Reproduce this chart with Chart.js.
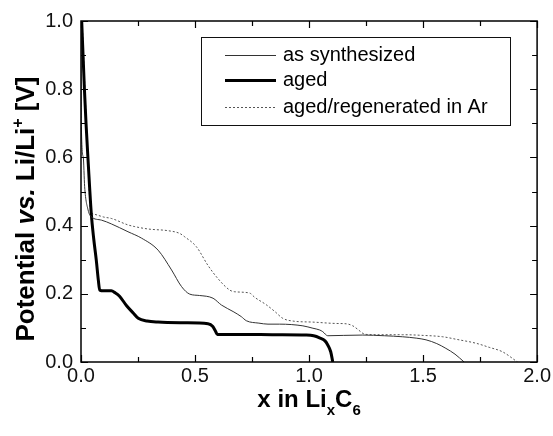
<!DOCTYPE html>
<html>
<head>
<meta charset="utf-8">
<script src="https://cdn.jsdelivr.net/npm/chart.js@4.4.0/dist/chart.umd.min.js"></script>
<style>
  html, body { margin: 0; padding: 0; background: #fff; }
</style>
</head>
<body>
<canvas id="curveChart" width="553" height="436"></canvas>
<script>
// series
const synthX = [0, 0.001, 0.01, 0.016, 0.031, 0.045, 0.09, 0.133, 0.206, 0.266, 0.338, 0.397, 0.441, 0.477, 0.52, 0.579, 0.616, 0.667, 0.703, 0.725, 0.78, 0.82, 0.871, 0.973, 1.017, 1.046, 1.06, 1.082, 1.15, 1.236, 1.33, 1.41, 1.47, 1.513, 1.56, 1.6, 1.64, 1.68];
const synthY = [1.0, 0.71, 0.6, 0.514, 0.446, 0.426, 0.416, 0.405, 0.382, 0.363, 0.328, 0.27, 0.221, 0.199, 0.195, 0.187, 0.167, 0.148, 0.133, 0.121, 0.114, 0.111, 0.111, 0.106, 0.099, 0.094, 0.089, 0.077, 0.078, 0.079, 0.077, 0.074, 0.07, 0.065, 0.054, 0.04, 0.023, 0.0];

const agedX = [0.003, 0.015, 0.022, 0.032, 0.045, 0.056, 0.067, 0.076, 0.082, 0.1, 0.133, 0.15, 0.169, 0.2, 0.23, 0.251, 0.29, 0.338, 0.45, 0.557, 0.578, 0.59, 0.598, 0.7, 0.85, 0.988, 1.02, 1.046, 1.07, 1.082, 1.095, 1.104];
const agedY = [1.0, 0.8, 0.7, 0.58, 0.436, 0.36, 0.299, 0.24, 0.211, 0.209, 0.209, 0.203, 0.193, 0.165, 0.143, 0.128, 0.12, 0.117, 0.115, 0.112, 0.104, 0.09, 0.081, 0.081, 0.08, 0.079, 0.077, 0.071, 0.062, 0.05, 0.03, 0.0];

const regenX = [0.005, 0.016, 0.03, 0.042, 0.06, 0.1, 0.133, 0.206, 0.236, 0.295, 0.382, 0.433, 0.455, 0.506, 0.557, 0.6, 0.652, 0.674, 0.74, 0.761, 0.812, 0.85, 0.885, 0.93, 1.017, 1.119, 1.163, 1.192, 1.215, 1.236, 1.25, 1.309, 1.41, 1.5, 1.586, 1.65, 1.732, 1.79, 1.848, 1.914];
const regenY = [1.0, 0.82, 0.6, 0.446, 0.433, 0.425, 0.421, 0.402, 0.397, 0.39, 0.385, 0.377, 0.367, 0.338, 0.283, 0.245, 0.211, 0.206, 0.202, 0.19, 0.168, 0.148, 0.128, 0.12, 0.117, 0.113, 0.112, 0.106, 0.095, 0.084, 0.081, 0.08, 0.08, 0.078, 0.074, 0.066, 0.055, 0.043, 0.03, 0.0];

const seriesNames = ['as synthesized', 'aged', 'aged/regenerated in Ar'];

const FONT = '"Liberation Sans", Arial, sans-serif';

function toPoints(xs, ys) {
  return xs.map((x, i) => ({ x: x, y: ys[i] }));
}

// draws a run of text pieces with their own font / baseline shift, centred on 0
function drawRich(ctx, parts) {
  let total = 0;
  parts.forEach(p => { ctx.font = p.font; p.w = ctx.measureText(p.text).width; total += p.w; });
  let x = -total / 2;
  parts.forEach(p => {
    ctx.font = p.font;
    ctx.fillText(p.text, x, p.dy || 0);
    x += p.w;
  });
}

const framePlugin = {
  id: 'frame',
  afterDraw(chart) {
    const ctx = chart.ctx;
    const a = chart.chartArea;
    const xs = chart.scales.x;
    const ys = chart.scales.y;
    ctx.save();

    // box round the plot
    ctx.strokeStyle = '#000';
    ctx.lineWidth = 1.5;
    ctx.strokeRect(a.left, a.top, a.right - a.left, a.bottom - a.top);

    // inward ticks on all four sides
    ctx.lineWidth = 1.2;
    ctx.beginPath();
    for (let i = 0; i <= 8; i++) {
      const px = Math.round(xs.getPixelForValue(i * 0.25)) + 0.5;
      const len = i % 2 === 0 ? 7 : 5;
      ctx.moveTo(px, a.bottom); ctx.lineTo(px, a.bottom - len);
      ctx.moveTo(px, a.top); ctx.lineTo(px, a.top + len);
    }
    for (let i = 0; i <= 10; i++) {
      const py = Math.round(ys.getPixelForValue(i * 0.1)) + 0.5;
      const len = i % 2 === 0 ? 7 : 5;
      ctx.moveTo(a.left, py); ctx.lineTo(a.left + len, py);
      ctx.moveTo(a.right, py); ctx.lineTo(a.right - len, py);
    }
    ctx.stroke();

    // legend
    ctx.lineWidth = 1;
    ctx.strokeStyle = '#111';
    ctx.strokeRect(201.5, 37.5, 309, 88);
    const rows = [55, 80, 107];
    const styles = [
      { w: 1, c: '#333', dash: [] },
      { w: 3, c: '#000', dash: [] },
      { w: 1, c: '#555', dash: [2, 2] }
    ];
    ctx.fillStyle = '#000';
    ctx.textBaseline = 'alphabetic';
    ctx.textAlign = 'left';
    ctx.font = '20px ' + FONT;
    rows.forEach((y, i) => {
      ctx.beginPath();
      ctx.lineWidth = styles[i].w;
      ctx.strokeStyle = styles[i].c;
      ctx.setLineDash(styles[i].dash);
      ctx.moveTo(225, y + 0.5); ctx.lineTo(276, y + 0.5);
      ctx.stroke();
      ctx.setLineDash([]);
      ctx.fillText(seriesNames[i], 283, y + 6);
    });

    // x title
    ctx.save();
    ctx.translate((a.left + a.right) / 2, 407);
    drawRich(ctx, [
      { text: 'x in Li', font: 'bold 24px ' + FONT },
      { text: 'x', font: 'bold 15px ' + FONT, dy: 8 },
      { text: 'C', font: 'bold 24px ' + FONT },
      { text: '6', font: 'bold 15px ' + FONT, dy: 8 }
    ]);
    ctx.restore();

    // y title
    ctx.save();
    ctx.translate(34, 209);
    ctx.rotate(-Math.PI / 2);
    drawRich(ctx, [
      { text: 'Potential ', font: 'bold 26px ' + FONT },
      { text: 'vs.', font: 'italic bold 26px ' + FONT },
      { text: ' Li/Li', font: 'bold 26px ' + FONT },
      { text: '+', font: 'bold 16px ' + FONT, dy: -11 },
      { text: ' [V]', font: 'bold 26px ' + FONT }
    ]);
    ctx.restore();

    ctx.restore();
  }
};

const ctx = document.getElementById('curveChart').getContext('2d');
new Chart(ctx, {
  type: 'scatter',
  data: {
    datasets: [
      {
        label: seriesNames[0],
        data: toPoints(synthX, synthY),
        showLine: true,
        borderColor: '#333',
        borderWidth: 1,
        pointRadius: 0,
        cubicInterpolationMode: 'monotone'
      },
      {
        label: seriesNames[1],
        data: toPoints(agedX, agedY),
        showLine: true,
        borderColor: '#000',
        borderWidth: 3,
        pointRadius: 0,
        cubicInterpolationMode: 'monotone'
      },
      {
        label: seriesNames[2],
        data: toPoints(regenX, regenY),
        showLine: true,
        borderColor: '#555',
        borderWidth: 1,
        borderDash: [2, 2],
        pointRadius: 0,
        cubicInterpolationMode: 'monotone'
      }
    ]
  },
  options: {
    responsive: false,
    animation: false,
    devicePixelRatio: 1,
    layout: { padding: { top: 21, right: 15, left: 0, bottom: 0 } },
    scales: {
      x: {
        type: 'linear',
        min: 0,
        max: 2,
        grid: { display: false, drawTicks: false },
        border: { display: false },
        ticks: {
          stepSize: 0.5,
          padding: 2,
          color: '#111',
          font: { family: FONT, size: 20 },
          callback: v => v.toFixed(1)
        },
        afterFit: scale => { scale.height = 74; }
      },
      y: {
        min: 0,
        max: 1,
        grid: { display: false, drawTicks: false },
        border: { display: false },
        ticks: {
          stepSize: 0.2,
          padding: 8,
          color: '#111',
          font: { family: FONT, size: 20 },
          callback: v => v.toFixed(1)
        },
        afterFit: scale => { scale.width = 81; }
      }
    },
    plugins: {
      legend: { display: false },
      tooltip: { enabled: false }
    }
  },
  plugins: [framePlugin]
});
</script>
</body>
</html>
